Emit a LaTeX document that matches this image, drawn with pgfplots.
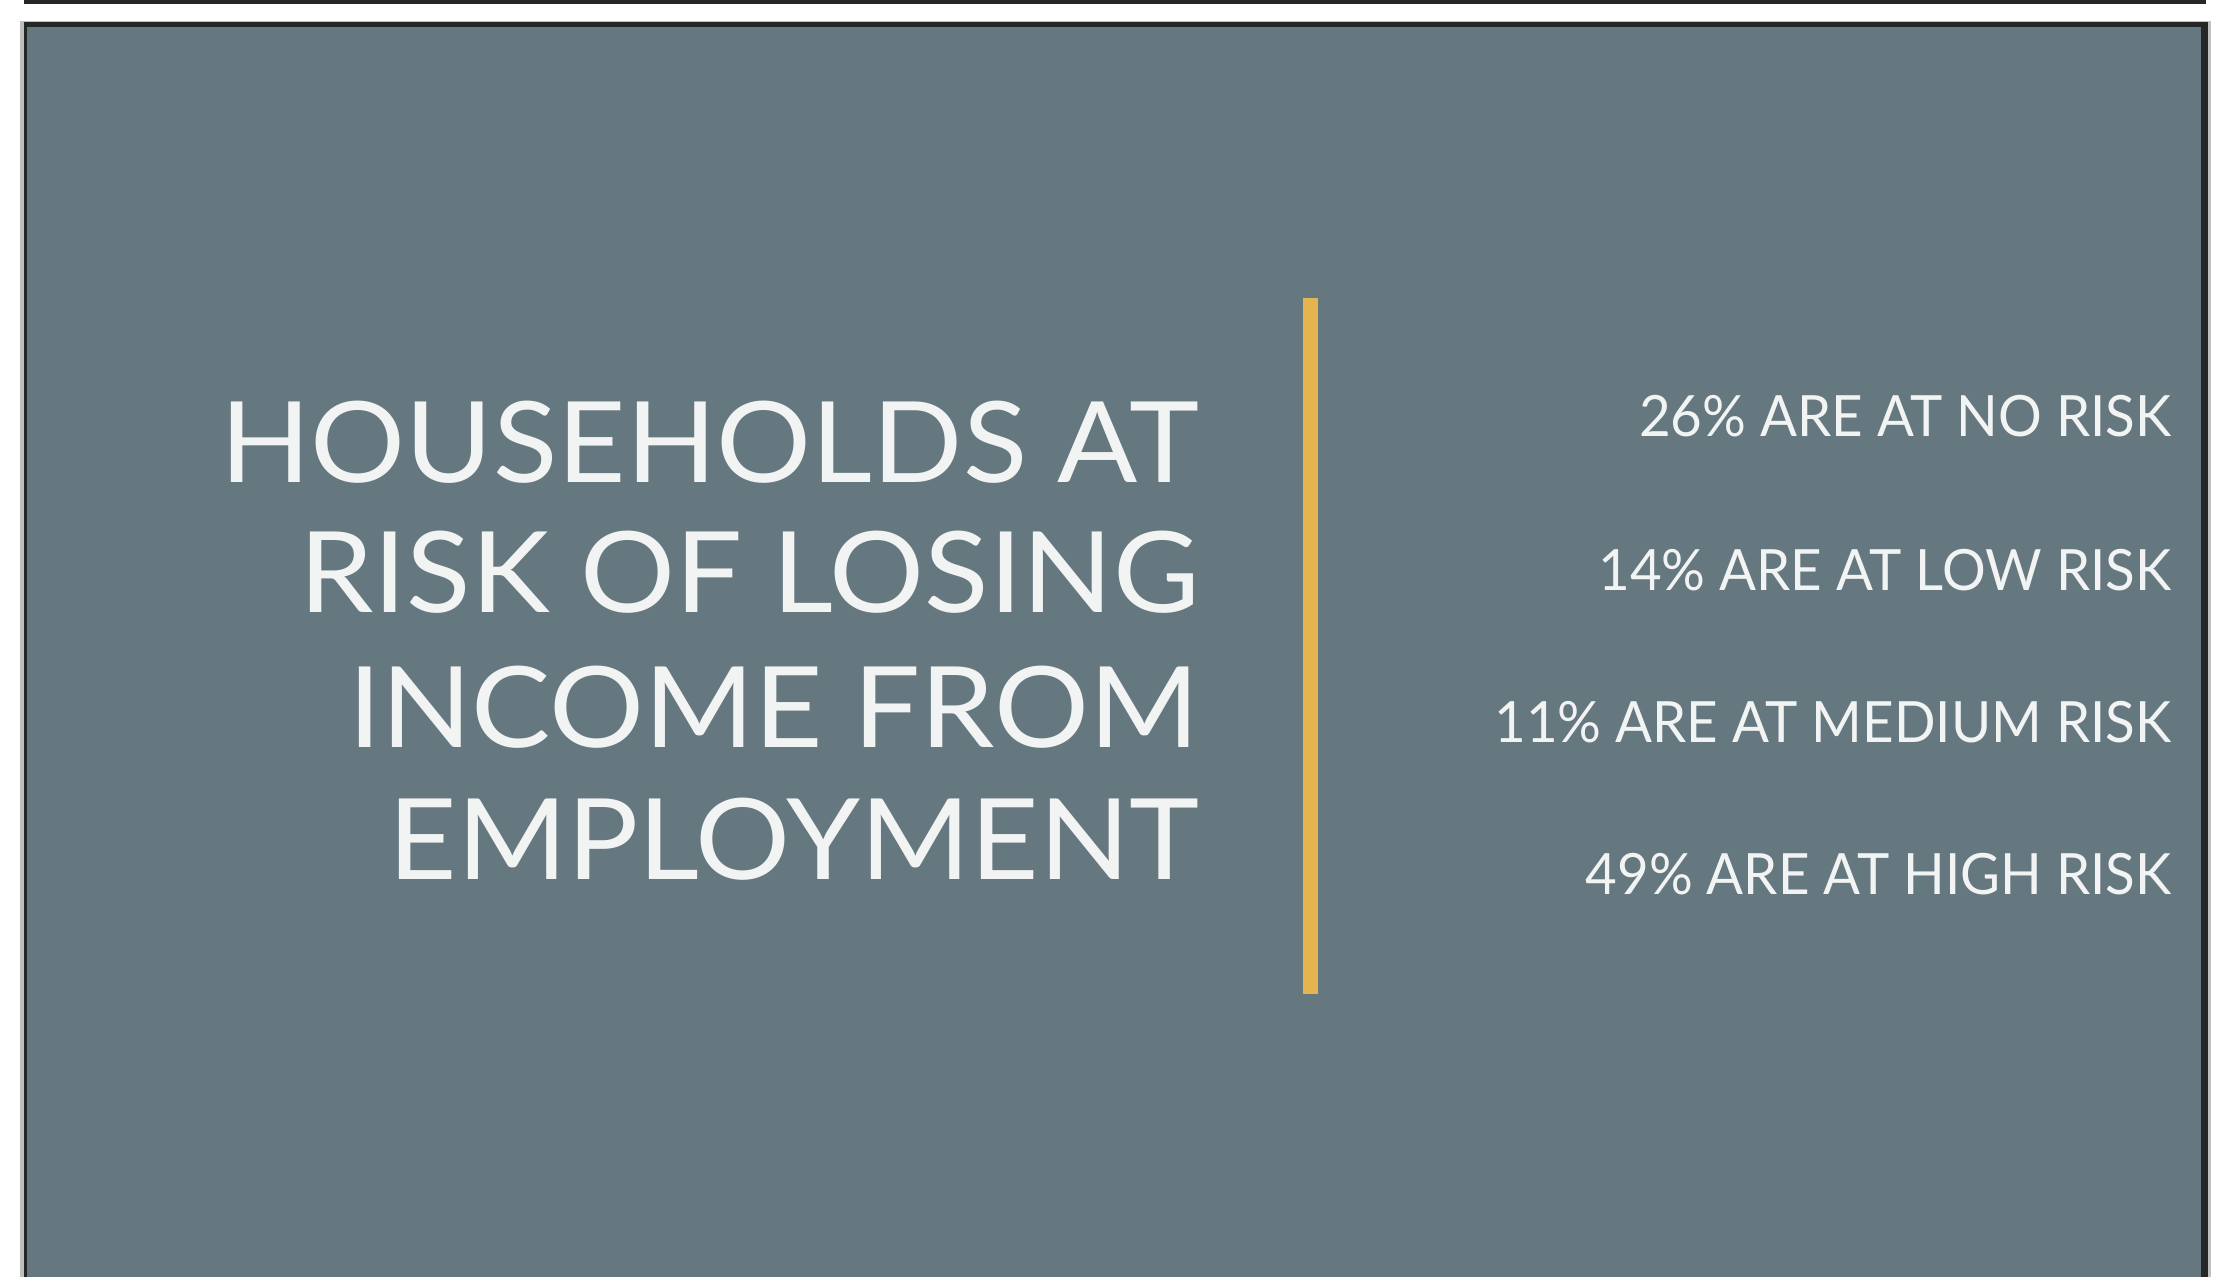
\documentclass[border=0pt]{standalone}
\usepackage{pgfplots}
\pgfplotsset{compat=1.18}
\usepackage{pgfplotstable}
\usepackage{fontspec}
\setmainfont{Lato}
\newfontfamily\headfont{Lato}[FakeStretch=1.055]
\newfontfamily\listfont{Lato}[FakeStretch=0.96]

\definecolor{slate}{HTML}{65777F}
\definecolor{rulegold}{HTML}{E4B54E}
\definecolor{ink}{HTML}{F2F3F3}

% share of households by risk level; y = baseline of the line (px from bottom)
\pgfplotstableread{
pct risk y
26 NO 840
14 LOW 686
11 MEDIUM 534
49 HIGH 382
}\risks

\begin{document}
\begin{tikzpicture}
\begin{axis}[
  width=22.26cm, height=12.77cm, scale only axis,
  xmin=0, xmax=2226, ymin=0, ymax=1277,
  hide axis, clip=false,
  /pgf/number format/assume math mode=true,
]
% page, frame and panel
\addplot[fill=white, draw=none] coordinates {(0,0) (2226,0) (2226,1277) (0,1277)} -- cycle;
\addplot[fill=black!25, draw=none] coordinates {(20,0) (2211,0) (2211,1256) (20,1256)} -- cycle;
\addplot[fill=black!85, draw=none] coordinates {(24,0) (2208,0) (2208,1255) (24,1255)} -- cycle;
\addplot[fill=slate, draw=none] coordinates {(27,0) (2201,0) (2201,1250) (27,1250)} -- cycle;
\addplot[fill=black!85, draw=none] coordinates {(24,1273) (2206,1273) (2206,1277) (24,1277)} -- cycle;

% divider
\addplot[rulegold, line width=1.5mm] coordinates {(1310,283) (1310,979)};

% list of risk shares
\addplot[
  only marks, mark=*, mark size=0pt, draw=none, fill=none,
  point meta=explicit symbolic,
  visualization depends on={\thisrow{pct} \as \pct},
  nodes near coords={\pgfmathprintnumber[fixed,precision=0,assume math mode=true]{\pct}\% ARE AT \pgfplotspointmeta\ RISK},
  nodes near coords align={anchor=base east},
  every node near coord/.append style={
    font=\listfont\fontsize{16.2}{20}\selectfont, text=ink, inner sep=0pt},
] table[x expr=2172, y=y, meta=risk] {\risks};

% heading
\begin{scope}[every node/.style={anchor=base east, inner sep=0pt, text=ink,
    font=\headfont\fontsize{32}{38}\selectfont}]
\node at (axis cs:1200,794) {HOUSEHOLDS AT};
\node at (axis cs:1200,664) {RISK OF LOSING};
\node at (axis cs:1200,529) {INCOME FROM};
\node at (axis cs:1200,397) {EMPLOYMENT};
\end{scope}
\end{axis}
\end{tikzpicture}
\end{document}
